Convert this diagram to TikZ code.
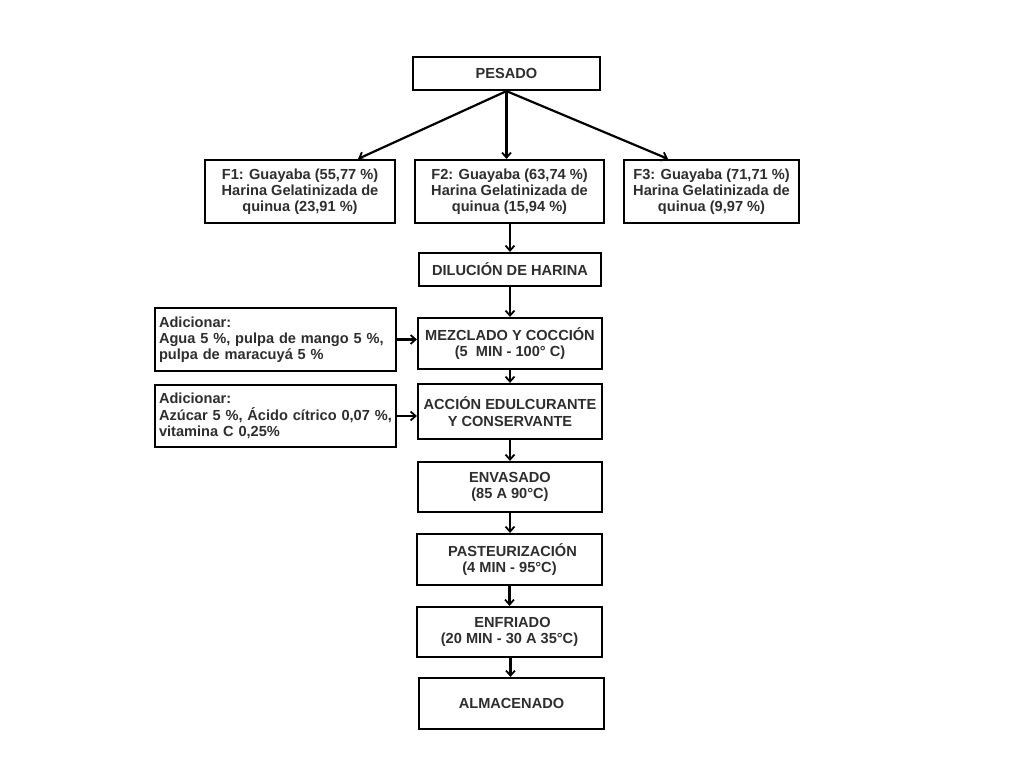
\documentclass[tikz,border=0pt]{standalone}
\usepackage{fontspec}
\setmainfont{Liberation Sans}
\usetikzlibrary{arrows.meta}
\definecolor{txt}{HTML}{2E2E2E}
\begin{document}
\begin{tikzpicture}[x=1pt,y=-1pt,
  box/.style={draw=black,line width=2.2pt,align=center,inner sep=2pt,
    font=\fontsize{14.6}{16.2}\selectfont\bfseries,text=txt},
  lbox/.style={box,align=left},
  arr/.style={line width=2.2pt,-{Straight Barb[length=5pt,width=9pt,line width=1.8pt]}}]
\useasboundingbox[fill=white] (0,0) rectangle (1024,768);
\node[box,minimum width=187pt,minimum height=33pt] (pes) at (506.5,73.5) {PESADO};
\node[box,minimum width=190pt,minimum height=63pt] (f1) at (300,191.5) {F1: Guayaba (55,77 \%)\\Harina Gelatinizada de\\quinua (23,91 \%)};
\node[box,minimum width=189pt,minimum height=63pt] (f2) at (509.5,191.5) {F2: Guayaba (63,74 \%)\\Harina Gelatinizada de\\quinua (15,94 \%)};
\node[box,minimum width=175pt,minimum height=63pt] (f3) at (711.5,191.5) {F3: Guayaba (71,71 \%)\\Harina Gelatinizada de\\quinua (9,97 \%)};
\node[box,minimum width=182pt,minimum height=33pt] (dil) at (510,269.5) {DILUCIÓN DE HARINA};
\node[box,minimum width=184pt,minimum height=51pt] (mez) at (510,343.5) {MEZCLADO Y COCCIÓN\\(5~ MIN - 100° C)};
\node[box,minimum width=184pt,minimum height=55pt] (acc) at (510,411.5) {ACCIÓN EDULCURANTE\\Y CONSERVANTE};
\node[box,minimum width=184pt,minimum height=50pt] (env) at (510,487) {ENVASADO\\(85 A 90°C)};
\node[box,minimum width=185pt,minimum height=51pt] (pas) at (509.5,559.5) {\hspace{6pt}PASTEURIZACIÓN\\(4 MIN - 95°C)};
\node[box,minimum width=185pt,minimum height=50pt] (enf) at (509.5,632) {\hspace{6pt}ENFRIADO\\(20 MIN - 30 A 35°C)};
\node[box,minimum width=185pt,minimum height=51pt] (alm) at (511.5,703.5) {ALMACENADO};
\node[lbox,minimum width=241pt,minimum height=63pt,text width=233pt] (ad1) at (275.5,339.5) {Adicionar:\\Agua 5 \%, pulpa de mango 5 \%,\\pulpa de maracuyá 5 \%};
\node[lbox,minimum width=241pt,minimum height=62pt,text width=233pt] (ad2) at (275.5,416) {Adicionar:\\Azúcar 5 \%, Ácido cítrico 0,07 \%,\\vitamina C 0,25\%};
\draw[arr] (pes.south) -- ([xshift=58pt]f1.north);
\draw[arr] (pes.south) -- (pes.south |- f2.north);
\draw[arr] (pes.south) -- ([xshift=-43.5pt]f3.north);
\draw[arr] (f2.south -| dil.north) -- (dil.north);
\draw[arr] (dil.south) -- (mez.north);
\draw[arr] (mez.south) -- (acc.north);
\draw[arr] (acc.south) -- (env.north);
\draw[arr] (env.south) -- (env.south |- pas.north);
\draw[arr] (pas.south) -- (enf.north);
\draw[arr] ([xshift=1pt]enf.south) -- ([xshift=1pt]enf.south |- alm.north);
\draw[arr] (ad1.east) -- (ad1.east -| mez.west);
\draw[arr] (ad2.east) -- (ad2.east -| acc.west);
\end{tikzpicture}
\end{document}
